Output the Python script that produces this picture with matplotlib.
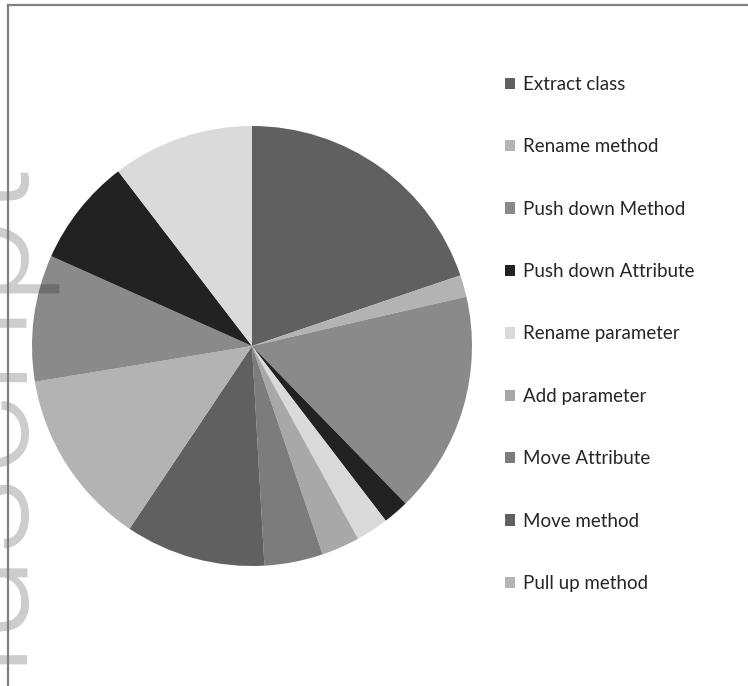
import matplotlib
matplotlib.use("Agg")
import matplotlib.pyplot as plt
from matplotlib.lines import Line2D

W, H = 748, 686
DPI = 100

categories = ["Extract class", "Rename method", "Push down Method", "Push down Attribute",
              "Rename parameter", "Add parameter", "Move Attribute", "Move method",
              "Pull up method", "Category 10", "Category 11", "Category 12"]
shares = [19.8, 1.6, 16.3, 1.9, 2.4, 2.8, 4.3, 10.3, 13.0, 9.3, 7.9, 10.4]
colors = ["#606060", "#b3b3b3", "#8a8a8a", "#222222", "#dadada", "#a8a8a8",
          "#7c7c7c", "#606060", "#b3b3b3", "#8a8a8a", "#222222", "#dadada"]
legend_shown = 9

fig = plt.figure(figsize=(W / DPI, H / DPI), dpi=DPI)
fig.patch.set_facecolor("white")

cx, cy, r = 252, 346, 220
ax = fig.add_axes([(cx - r) / W, (H - cy - r) / H, 2 * r / W, 2 * r / H])
wedges, _ = ax.pie(shares, colors=colors, startangle=90, counterclock=False,
                   wedgeprops=dict(linewidth=0))
ax.set_xlim(-1, 1)
ax.set_ylim(-1, 1)
ax.set_aspect("equal")
ax.axis("off")

leg = fig.legend(wedges[:legend_shown], categories[:legend_shown],
                 loc="upper left", bbox_to_anchor=(505 / W, 1 - 76 / H),
                 frameon=False, borderpad=0, borderaxespad=0,
                 prop={"family": "Lato", "size": 13.5},
                 handlelength=0.55, handleheight=0.55, handletextpad=0.4,
                 labelspacing=2.42, labelcolor="#262626")

# watermark
fig.text(13 / W, 1 - 151 / H, "Manuscript", rotation=90, rotation_mode="anchor",
         ha="right", va="baseline", fontsize=114, family="Roboto", weight=300,
         color="black", alpha=0.2, zorder=5)

# frame lines (top and left)
fig.add_artist(Line2D([8 / W, 1], [1 - 5 / H, 1 - 5 / H], color="#808080", lw=1.6,
                      transform=fig.transFigure, zorder=6))
fig.add_artist(Line2D([8 / W, 8 / W], [0, 1 - 5 / H], color="#808080", lw=1.6,
                      transform=fig.transFigure, zorder=6))

fig.savefig("out.png", dpi=DPI)
